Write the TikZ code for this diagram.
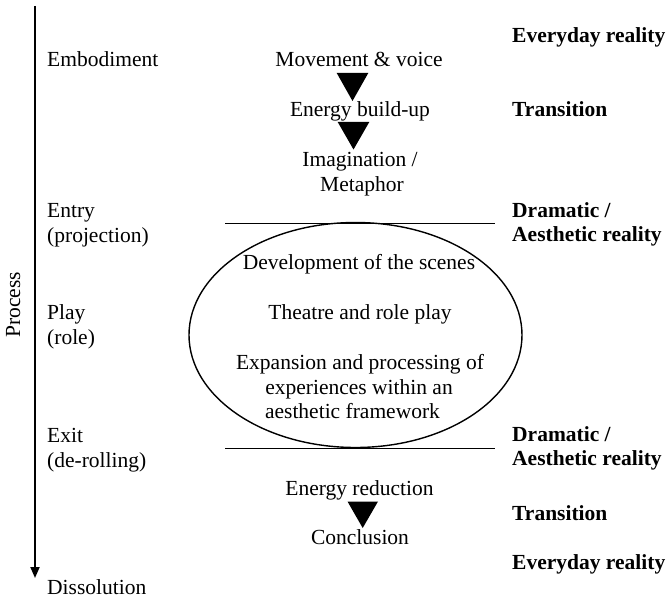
\documentclass[tikz,border=0pt]{standalone}
\usepackage{fontspec}
\setmainfont{Liberation Serif}
\usetikzlibrary{arrows.meta,shapes.geometric}
\begin{document}
\begin{tikzpicture}[x=1pt,y=-1pt,
  txt/.style={inner sep=0pt,font=\fontsize{21.5}{25}\selectfont},
  lab/.style={txt,anchor=base west},
  ctr/.style={txt,anchor=base},
  rlab/.style={txt,anchor=base west,font=\fontsize{21.5}{25}\selectfont\bfseries},
  tri/.style={fill=black},
  sep/.style={line width=1pt},
  procarrow/.style={line width=2pt,-{Triangle[width=9pt,length=11pt]}}]
\useasboundingbox (0,0) rectangle (667,599);
% process axis
\coordinate (ptop) at (35,6);
\coordinate (pbot) at (35,578);
\draw[procarrow] (ptop) -- (pbot);
\node[txt,rotate=90,anchor=base] (process) at (20,305) {Process};
% left labels
\node[lab] (emb) at (47,67) {Embodiment};
\node[lab] (entry1) at (47,217) {Entry};
\node[lab] (entry2) at (47,242) {(projection)};
\node[lab] (play1) at (47,319) {Play};
\node[lab] (play2) at (47,344) {(role)};
\node[lab] (exit1) at (47,442) {Exit};
\node[lab] (exit2) at (47,467) {(de-rolling)};
\node[lab] (diss) at (47,594) {Dissolution};
% right labels
\node[rlab] (r1) at (512,43) {Everyday reality};
\node[rlab] (r2) at (512,117) {Transition};
\node[rlab] (r3) at (512,217) {Dramatic /};
\node[rlab] (r4) at (512,241) {Aesthetic reality};
\node[rlab] (r5) at (512,441) {Dramatic /};
\node[rlab] (r6) at (512,465) {Aesthetic reality};
\node[rlab] (r7) at (512,520) {Transition};
\node[rlab] (r8) at (512,569) {Everyday reality};
% center top
\node[ctr] (mv) at (359,67) {Movement \& voice};
\fill[tri] (336.7,73) -- (368.3,73) -- (352.5,101) -- cycle;
\node[ctr] (eb) at (360,117) {Energy build-up};
\fill[tri] (337.7,122) -- (369.3,122) -- (353.5,149.5) -- cycle;
\node[ctr] (im1) at (360,167) {Imagination /};
\node[ctr] (im2) at (362,192) {Metaphor};
% separators
\coordinate (l1a) at (225,223);
\coordinate (l1b) at (495,223);
\coordinate (l2a) at (225,448);
\coordinate (l2b) at (495,448);
\draw[sep] (l1a) -- (l1b);
\draw[sep] (l2a) -- (l2b);
% ellipse
\node[draw,line width=1.4pt,ellipse,minimum width=333pt,minimum height=225pt,inner sep=0pt] (ell) at (355.5,335) {};
\node[ctr] (dev) at (359,269) {Development of the scenes};
\node[ctr] (the) at (360,319) {Theatre and role play};
\node[ctr] (exp1) at (360,369) {Expansion and processing of};
\node[ctr] (exp2) at (359,394) {experiences within an};
\node[ctr] (exp3) at (352.5,418) {aesthetic framework};
% bottom center
\node[ctr] (er) at (359.5,495) {Energy reduction};
\fill[tri] (347.5,501.5) -- (378,501.5) -- (362.7,528) -- cycle;
\node[ctr] (con) at (360,544) {Conclusion};
\end{tikzpicture}
\end{document}
